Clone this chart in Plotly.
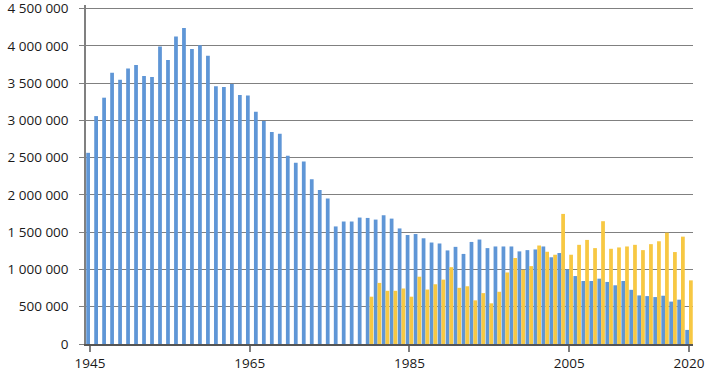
import plotly.graph_objects as go

years = list(range(1945, 2021))

blue_values = [
    2566000, 3059000, 3306000, 3640000, 3548000, 3698000, 3746000, 3597000, 3584000, 3994000,
    3812000, 4126000, 4240000, 3958000, 4011000, 3870000, 3459000, 3451000, 3489000, 3341000,
    3337000, 3116000, 2993000, 2847000, 2821000, 2526000, 2433000, 2450000, 2212000, 2067000,
    1952000, 1578000, 1644000, 1644000, 1697000, 1692000, 1670000, 1728000, 1683000, 1551000,
    1463000, 1476000, 1419000, 1362000, 1349000, 1256000, 1304000, 1209000, 1370000, 1402000,
    1287000, 1309000, 1309000, 1309000, 1243000, 1260000, 1269000, 1309000, 1164000, 1221000,
    1000000, 912000, 846000, 846000, 877000, 833000, 788000, 846000, 727000, 652000,
    643000, 630000, 648000, 569000, 595000, 189000,
]

yellow_years = list(range(1980, 2021))
yellow_values = [
    635000, 820000, 714000, 714000, 745000, 635000, 903000, 731000, 802000, 864000,
    1031000, 754000, 775000, 586000, 683000, 546000, 701000, 960000, 1154000, 996000,
    1045000, 1322000, 1238000, 1198000, 1746000, 1198000, 1331000, 1397000, 1287000, 1648000,
    1278000, 1296000, 1309000, 1331000, 1260000, 1340000, 1379000, 1494000, 1234000, 1441000,
    854000,
]

x_tick_labels = [1945, 1965, 1985, 2005, 2020]
y_tick_values = [0, 500000, 1000000, 1500000, 2000000, 2500000, 3000000, 3500000, 4000000, 4500000]

yellow_full = [None] * len(years)
for yr, v in zip(yellow_years, yellow_values):
    yellow_full[years.index(yr)] = v

fig = go.Figure()
fig.add_trace(go.Bar(x=years, y=blue_values, marker=dict(color="#5f96d6", line=dict(width=0)), name="A"))
fig.add_trace(go.Bar(x=years, y=yellow_full, marker=dict(color="#f7c843", line=dict(width=0)), name="B"))

font_family = "Open Sans"
fig.update_layout(
    width=709, height=372,
    margin=dict(l=86, r=16, t=5, b=28),
    barmode="group",
    bargap=0.06,
    bargroupgap=0,
    showlegend=False,
    plot_bgcolor="white",
    paper_bgcolor="white",
    separators=". ",
    font=dict(family=font_family, size=13.5, color="#1a1a1a"),
)
fig.update_xaxes(
    range=[1944.5, 2020.5],
    tickvals=x_tick_labels,
    ticktext=[str(v) for v in x_tick_labels],
    ticks="outside", ticklen=6, tickcolor="#808080", tickwidth=1.5,
    showline=True, linecolor="#555555", linewidth=1.5,
    showgrid=False, zeroline=False,
    automargin=False,
    ticklabelstandoff=0,
    ticklabeloverflow="allow",
    tickfont=dict(family=font_family, size=13.5, color="#1a1a1a"),
)
fig.update_yaxes(
    range=[0, 4550000],
    tickvals=y_tick_values,
    tickformat=",d",
    ticks="outside", ticklen=5, tickcolor="#808080", tickwidth=1,
    showline=True, linecolor="#808080", linewidth=1.5,
    showgrid=True, gridcolor="#808080", gridwidth=1,
    zeroline=False,
    automargin=False,
    ticklabelstandoff=8,
    ticklabeloverflow="allow",
    tickfont=dict(family=font_family, size=13.5, color="#1a1a1a"),
)

fig.write_html("out.html")
